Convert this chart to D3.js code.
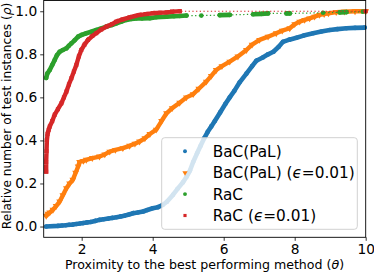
<!DOCTYPE html>
<html>
<head>
<meta charset="utf-8">
<script src="https://cdn.jsdelivr.net/npm/d3@7"></script>
<style>
  body { margin: 0; background: #fff; }
  text { font-family: "DejaVu Sans", sans-serif; fill: #000; }
</style>
</head>
<body>
<div id="main"></div>
<script>
// performance profiles, values

var bacX = [1.0, 1.33, 1.45, 1.55, 1.65, 1.75, 1.85, 1.95, 2.04, 2.15, 2.25, 2.38, 2.5, 2.62, 2.75, 2.86, 2.98, 3.1, 3.2, 3.33, 3.45, 3.58, 3.73, 3.85, 4.0, 4.15, 4.28,
            4.4, 4.57, 4.7, 4.85, 4.95, 5.05, 5.14, 5.25, 5.35, 5.45, 5.55, 5.65, 5.75, 5.9, 6.05, 6.17, 6.3, 6.45, 6.64, 6.8, 6.92, 7.1, 7.25, 7.4, 7.55, 7.67, 7.85, 8.05, 8.25,
            8.52, 8.75, 8.99, 9.2, 9.46, 9.7, 9.97];
var bacY = [0.0, 0.003, 0.005, 0.006, 0.008, 0.009, 0.012, 0.014, 0.016, 0.019, 0.021, 0.026, 0.031, 0.034, 0.037, 0.040, 0.043, 0.047, 0.050, 0.056, 0.062, 0.065, 0.070, 0.077, 0.085, 0.090, 0.100,
            0.115, 0.147, 0.175, 0.205, 0.230, 0.260, 0.300, 0.340, 0.375, 0.410, 0.440, 0.465, 0.490, 0.530, 0.570, 0.600, 0.630, 0.670, 0.710, 0.745, 0.770, 0.785, 0.800, 0.812, 0.835, 0.858, 0.868, 0.877, 0.887,
            0.898, 0.906, 0.913, 0.917, 0.921, 0.923, 0.924];

var bacEpsX = [1.0, 1.05, 1.1, 1.19, 1.28, 1.38, 1.47, 1.57, 1.66, 1.75, 1.83, 1.9, 1.94, 2.05, 2.13, 2.3, 2.5, 2.65, 2.79, 2.95, 3.16, 3.35, 3.5, 3.63, 3.78, 3.92, 4.1, 4.25, 4.39, 4.55, 4.76,
               4.95, 5.14, 5.3, 5.51, 5.65, 5.79, 5.95, 6.17, 6.4, 6.64, 6.8, 7.01, 7.25, 7.48, 7.65, 7.86, 8.0, 8.14, 8.28, 8.42, 8.56, 8.7, 8.83, 8.95, 9.17, 9.4, 9.7, 10.0];
var bacEpsY = [0.05, 0.06, 0.065, 0.078, 0.095, 0.116, 0.145, 0.178, 0.2, 0.217, 0.25, 0.279, 0.3, 0.305, 0.31, 0.318, 0.325, 0.335, 0.348, 0.356, 0.364, 0.375, 0.385, 0.395, 0.41, 0.43, 0.45, 0.49, 0.526, 0.55, 0.575,
               0.6, 0.615, 0.64, 0.673, 0.7, 0.727, 0.745, 0.766, 0.79, 0.82, 0.845, 0.867, 0.882, 0.898, 0.91, 0.921, 0.94, 0.952, 0.96, 0.967, 0.975, 0.983, 0.987, 0.99, 0.996, 0.998, 1.0, 1.0];

var racX = [1.0, 1.03, 1.1, 1.17, 1.24, 1.3, 1.38, 1.47, 1.57, 1.64, 1.71, 1.8, 1.9, 2.0, 2.13, 2.27, 2.41, 2.55, 2.7, 2.85, 2.98, 3.12, 3.26, 3.4, 3.54, 3.7, 3.92,
            4.1, 4.39, 4.6, 4.76, 4.95, 5.37, 5.89, 6.17, 6.83, 7.06, 7.25, 7.77, 7.86, 8.8, 9.27, 9.46, 9.92];
var racY = [0.69, 0.71, 0.727, 0.75, 0.774, 0.795, 0.812, 0.82, 0.828, 0.84, 0.851, 0.865, 0.882, 0.89, 0.898, 0.905, 0.913, 0.92, 0.929, 0.936, 0.944, 0.952, 0.96, 0.964, 0.967, 0.967, 0.968,
            0.972, 0.975, 0.977, 0.978, 0.98, 0.98, 0.982, 0.983, 0.986, 0.988, 0.99, 0.99, 0.99, 0.993, 0.995, 0.996, 0.998];

var racEpsX = [1.0, 1.0, 1.01, 1.02, 1.04, 1.07, 1.1, 1.17, 1.24, 1.33, 1.43, 1.5, 1.57, 1.64, 1.71, 1.78, 1.85, 1.92, 1.99, 2.08, 2.18, 2.3, 2.41, 2.55, 2.7, 2.85, 2.98, 3.15, 3.35, 3.5, 3.63, 3.8, 4.0, 4.2, 4.39, 4.55, 4.76, 10.0];
var racEpsY = [0.255, 0.3, 0.35, 0.4, 0.43, 0.449, 0.464, 0.49, 0.519, 0.545, 0.573, 0.6, 0.627, 0.66, 0.689, 0.72, 0.751, 0.79, 0.82, 0.845, 0.867, 0.885, 0.898, 0.915, 0.929, 0.94, 0.952, 0.962, 0.972, 0.978, 0.983, 0.987, 0.991, 0.993, 0.995, 0.998, 1.0, 1.0];

// label pieces: [upright text, italic symbol, upright text]
var names = [['BaC(PaL)', '', ''], ['BaC(PaL) (', '\u03f5', '=0.01)'], ['RaC', '', ''], ['RaC (', '\u03f5', '=0.01)']];
var colors = ['#1f77b4', '#ff7f0e', '#2ca02c', '#d62728'];
var symbols = [d3.symbolCircle, d3.symbolTriangle, d3.symbolCircle, d3.symbolSquare];
var xTicks = [2, 4, 6, 8, 10];
var yTicks = [0.0, 0.2, 0.4, 0.6, 0.8, 1.0];

var series = [[bacX, bacY], [bacEpsX, bacEpsY], [racX, racY], [racEpsX, racEpsY]];

var width = 374, height = 273;
var axL = 43.7, axR = 365.7, axT = 0.5, axB = 237.3;

var svg = d3.select('#main')
    .append('svg')
    .attr('width', width)
    .attr('height', height);

var x = d3.scaleLinear().domain([0.93, 10]).range([axL, axR]);
var y = d3.scaleLinear().domain([-0.05, 1.05]).range([axB, axT]);

// axes
var xAxis = svg.append('g')
    .attr('transform', 'translate(0,' + axB + ')')
    .call(d3.axisBottom(x).tickValues(xTicks).tickSize(3.5).tickPadding(3).tickFormat(d3.format('d')));
var yAxis = svg.append('g')
    .attr('transform', 'translate(' + axL + ',0)')
    .call(d3.axisLeft(y).tickValues(yTicks).tickSize(3.5).tickPadding(3).tickFormat(d3.format('.1f')));
[xAxis, yAxis].forEach(function(g) {
    g.select('.domain').remove();
    g.selectAll('text').attr('font-size', 13.8).attr('font-family', '"DejaVu Sans", sans-serif').attr('fill', '#000');
    g.selectAll('line').attr('stroke', '#000').attr('stroke-width', 0.8);
});

var plot = svg.append('g');

// one curve: thin dotted line, a marker-wide band where markers crowd, then markers
series.forEach(function(s, i) {
    var pts = s[0].map(function(v, j) { return [x(v), y(s[1][j])]; });
    var ms = i === 0 || i === 2 ? 4.6 : 4.4;

    plot.append('path')
        .attr('d', d3.line()(pts))
        .attr('fill', 'none')
        .attr('stroke', colors[i])
        .attr('stroke-width', 1.2)
        .attr('stroke-dasharray', '1.3,2.4');

    var dense = '';
    for (var j = 1; j < pts.length; j++) {
        var dx = pts[j][0] - pts[j-1][0], dy = pts[j][1] - pts[j-1][1];
        if (Math.sqrt(dx*dx + dy*dy) < 14) {
            dense += 'M' + pts[j-1][0] + ',' + pts[j-1][1] + 'L' + pts[j][0] + ',' + pts[j][1];
        }
    }
    plot.append('path')
        .attr('d', dense)
        .attr('fill', 'none')
        .attr('stroke', colors[i])
        .attr('stroke-width', ms)
        .attr('stroke-linecap', i === 3 ? 'square' : 'round')
        .attr('stroke-linejoin', 'round');

    var sym = d3.symbol().type(symbols[i]).size(i === 3 ? 16 : (i === 1 ? 20 : 17));
    plot.selectAll(null)
        .data(pts)
        .enter().append('path')
        .attr('d', sym)
        .attr('transform', function(p) { return 'translate(' + p[0] + ',' + p[1] + ')' + (i === 1 ? ' rotate(180)' : ''); })
        .attr('fill', colors[i]);
});

// spines
svg.append('rect')
    .attr('x', axL).attr('y', axT)
    .attr('width', axR - axL).attr('height', axB - axT)
    .attr('fill', 'none')
    .attr('stroke', '#000')
    .attr('stroke-width', 0.9);

// legend
var lg = svg.append('g');
lg.append('rect')
    .attr('x', 161.7).attr('y', 137.7)
    .attr('width', 195.6).attr('height', 91.6)
    .attr('rx', 3)
    .attr('fill', '#fff').attr('fill-opacity', 0.8)
    .attr('stroke', '#cccccc').attr('stroke-width', 0.9);
names.forEach(function(n, i) {
    var cy = 151.3 + i * 21.4;
    lg.append('path')
        .attr('d', d3.symbol().type(symbols[i]).size(i === 3 ? 10 : 12))
        .attr('transform', 'translate(185,' + cy + ')' + (i === 1 ? ' rotate(180)' : ''))
        .attr('fill', colors[i]);
    var t = lg.append('text')
        .attr('x', 212.7).attr('y', cy)
        .attr('dy', '0.36em')
        .attr('font-size', 15.3);
    t.append('tspan').text(n[0]);
    if (n[1]) {
        t.append('tspan').attr('font-style', 'italic').text(n[1]);
        t.append('tspan').text(n[2]);
    }
});

// axis titles
var xt = svg.append('text')
    .attr('x', 204.5).attr('y', 269)
    .attr('text-anchor', 'middle')
    .attr('font-size', 12.6);
xt.append('tspan').text('Proximity to the best performing method (');
xt.append('tspan').attr('font-style', 'italic').text('\u03b8');
xt.append('tspan').text(')');

var yt = svg.append('text')
    .attr('transform', 'translate(10.5,116) rotate(-90)')
    .attr('text-anchor', 'middle')
    .attr('font-size', 12.2);
yt.append('tspan').text('Relative number of test instances (');
yt.append('tspan').attr('font-style', 'italic').text('\u03c1');
yt.append('tspan').text(')');
</script>
</body>
</html>
